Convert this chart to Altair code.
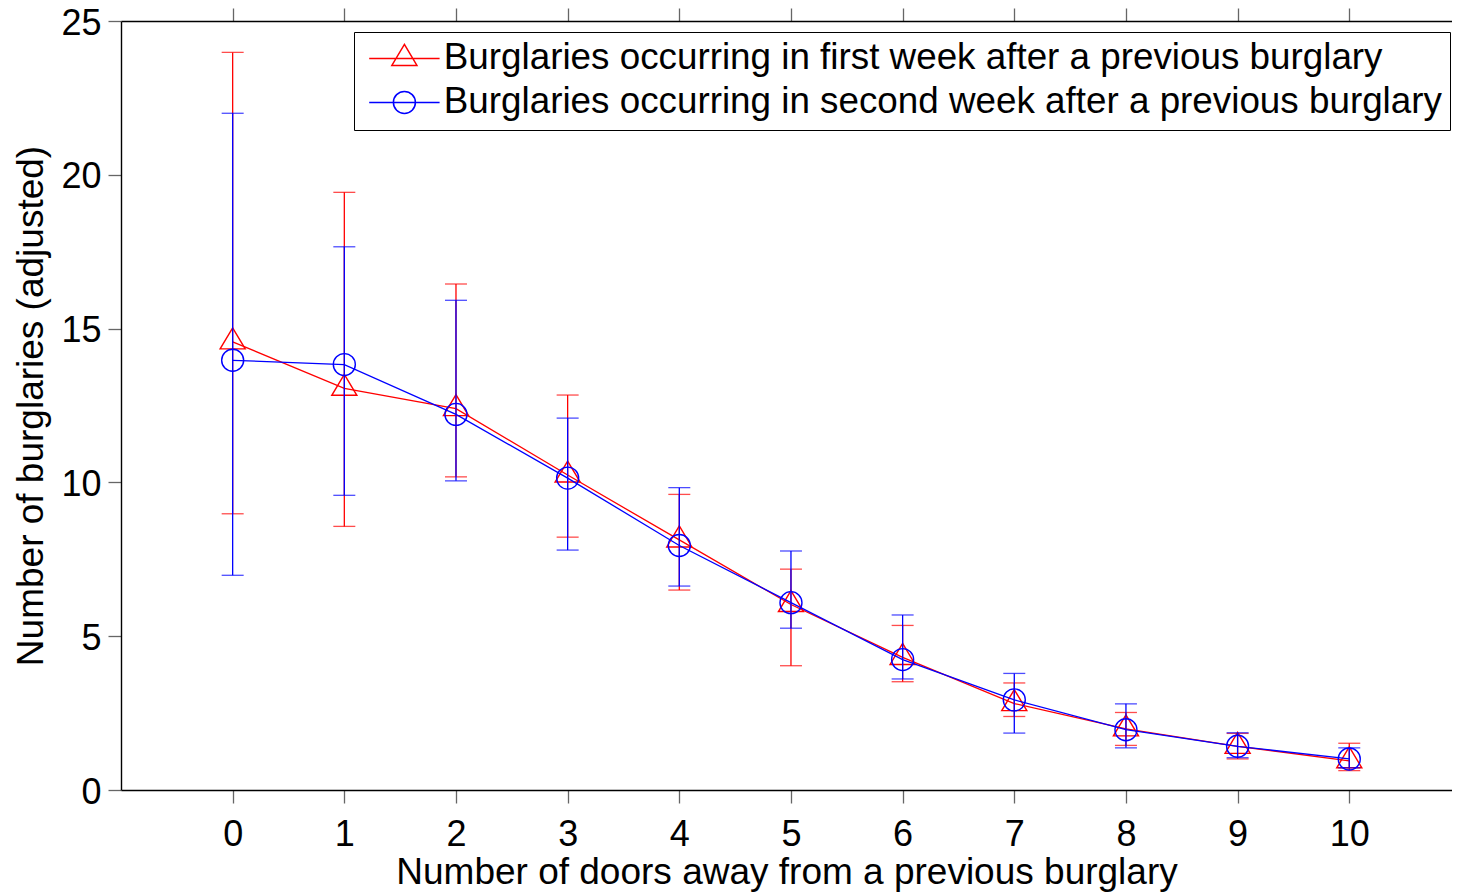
import altair as alt
import pandas as pd

doors = [0, 1, 2, 3, 4, 5, 6, 7, 8, 9, 10]

week1_mean = [14.57, 13.06, 12.40, 10.24, 8.13, 6.03, 4.31, 2.81, 1.99, 1.42, 0.95]
week1_upper = [23.98, 19.43, 16.45, 12.84, 9.61, 7.18, 5.35, 3.48, 2.52, 1.84, 1.52]
week1_lower = [8.98, 8.57, 10.18, 8.22, 6.50, 4.04, 3.52, 2.39, 1.45, 1.01, 0.63]

week2_mean = [13.97, 13.83, 12.21, 10.14, 7.95, 6.09, 4.24, 2.93, 1.96, 1.42, 1.01]
week2_upper = [22.00, 17.66, 15.92, 12.09, 9.83, 7.77, 5.69, 3.79, 2.80, 1.86, 1.37]
week2_lower = [6.98, 9.58, 10.05, 7.80, 6.63, 5.26, 3.61, 1.85, 1.37, 1.05, 0.72]

series_names = [
    "Burglaries occurring in first week after a previous burglary",
    "Burglaries occurring in second week after a previous burglary",
]
series_colors = ["#ff0000", "#0000ff"]

y_ticks = [0, 5, 10, 15, 20, 25]

rows = []
for name, means, lows, highs in [
    (series_names[0], week1_mean, week1_lower, week1_upper),
    (series_names[1], week2_mean, week2_lower, week2_upper),
]:
    for d, m, lo, hi in zip(doors, means, lows, highs):
        rows.append({"doors": d, "series": name, "mean": m, "lower": lo, "upper": hi})
df = pd.DataFrame(rows)

FONT = "Liberation Sans"
TRI = "M0,-1.27L1.14,0.64L-1.14,0.64Z"
LEG_TRI = "M-3.2,0L3.2,0M0,-1.27L1.14,0.64L-1.14,0.64Z"
LEG_CIRC = "M-3.2,0L3.2,0M-1,0A1,1,0,1,1,1,0A1,1,0,1,1,-1,0Z"

# the right edge of the frame (x = 11) lies just beyond the picture's edge
xscale = alt.Scale(domain=[-1, 10.92], nice=False, zero=False)
yscale = alt.Scale(domain=[0, 25], nice=False, zero=False)

x_axis = alt.Axis(
    values=doors,
    title="Number of doors away from a previous burglary",
    labelPadding=14,
    titlePadding=2,
)
y_axis = alt.Axis(
    values=y_ticks,
    title="Number of burglaries (adjusted)",
    labelPadding=7,
    labelOffset=2,
    titlePadding=10,
)


def X():
    return alt.X("doors:Q", scale=xscale, axis=x_axis)


def Y(field):
    return alt.Y(f"{field}:Q", scale=yscale, axis=y_axis)


base = alt.Chart(df)
layers = []
for name, color, shape in [
    (series_names[0], series_colors[0], TRI),
    (series_names[1], series_colors[1], "circle"),
]:
    sub = base.transform_filter(alt.datum.series == name)
    layers.append(
        sub.mark_rule(color=color, strokeWidth=1.3).encode(
            x=X(), y=Y("lower"), y2="upper:Q"
        )
    )
    for f in ["lower", "upper"]:
        layers.append(
            sub.mark_tick(color=color, orient="horizontal", size=22, thickness=1.3).encode(
                x=X(), y=Y(f)
            )
        )
    layers.append(
        sub.mark_line(color=color, strokeWidth=1.3).encode(x=X(), y=Y("mean"))
    )
    layers.append(
        sub.mark_point(
            shape=shape, size=484, filled=False, color=color, strokeWidth=1.4, opacity=1
        ).encode(x=X(), y=Y("mean"))
    )

legend_def = alt.Legend(
    title=None,
    orient="none",
    legendX=233,
    legendY=11,
    symbolOpacity=1,
    symbolSize=484,
    symbolStrokeWidth=1.5,
    symbolOffset=24,
    labelOffset=21,
    labelFont=FONT,
    labelFontSize=36.8,
    labelColor="black",
    labelLimit=2000,
    padding=8,
    rowPadding=6,
    strokeColor="black",
    fillColor="white",
)

legend_layer = base.mark_point(opacity=0, filled=False, size=484).encode(
    x=X(),
    y=Y("mean"),
    color=alt.Color(
        "series:N",
        scale=alt.Scale(domain=series_names, range=series_colors),
        legend=legend_def,
    ),
    shape=alt.Shape(
        "series:N",
        scale=alt.Scale(domain=series_names, range=[LEG_TRI, LEG_CIRC]),
        legend=legend_def,
    ),
)
layers.append(legend_layer)

main = alt.layer(*layers)

top_axis = base.mark_point(opacity=0).encode(
    x=alt.X(
        "doors:Q",
        scale=xscale,
        axis=alt.Axis(orient="top", values=doors, labels=False, title=None),
    ),
    y=Y("mean"),
)

chart = (
    alt.layer(main, top_axis)
    .resolve_scale(x="independent")
    .properties(
        width=1331,
        height=769,
        padding={"left": 113, "top": 13, "right": 0, "bottom": 103},
        autosize=alt.AutoSizeParams(type="none"),
    )
    .configure_view(stroke=None)
    .configure_axis(
        grid=False,
        labelFont=FONT,
        titleFont=FONT,
        labelFontSize=36,
        titleFontSize=37,
        titleFontWeight="normal",
        labelColor="black",
        titleColor="black",
        domainColor="black",
        domainWidth=1.4,
        tickColor="#666666",
        tickWidth=1.3,
        tickSize=13,
    )
)

chart.save("out.html", embed_options={"renderer": "svg", "actions": False})
